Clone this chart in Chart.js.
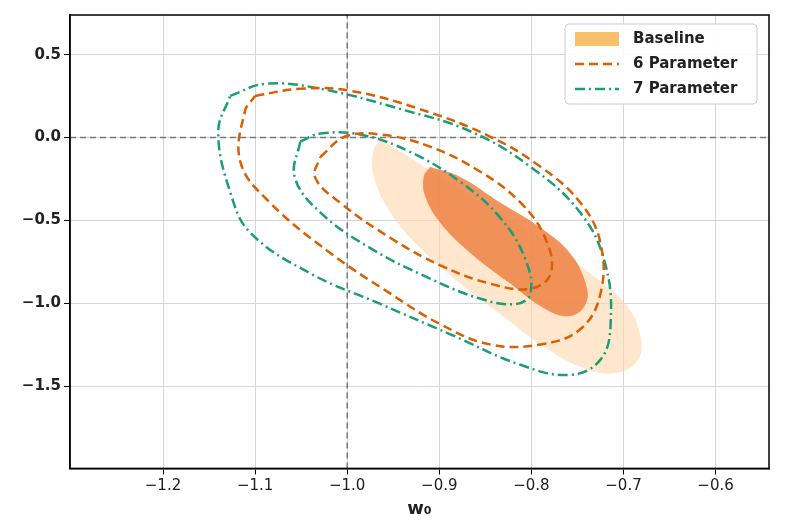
<!DOCTYPE html>
<html><head><meta charset="utf-8">
<script src="https://cdn.jsdelivr.net/npm/chart.js@4.4.1/dist/chart.umd.min.js"></script>
<style>body{margin:0;background:#fff}#w{width:800px;height:524px}</style>
</head><body><div id="w"><canvas id="c"></canvas></div>
<script>
const xTicks=[-1.2,-1.1,-1.0,-0.9,-0.8,-0.7,-0.6];
const yTicks=[0.5,0.0,-0.5,-1.0,-1.5];
const baselineOuter=[[-0.964,-0.012],[-0.942,-0.086],[-0.899,-0.239],[-0.845,-0.422],[-0.790,-0.606],[-0.736,-0.820],[-0.698,-1.004],[-0.682,-1.187],[-0.684,-1.340],[-0.709,-1.420],[-0.747,-1.383],[-0.790,-1.248],[-0.834,-1.065],[-0.877,-0.881],[-0.921,-0.667],[-0.953,-0.453],[-0.971,-0.239],[-0.972,-0.086]];
const baselineInner=[[-0.910,-0.177],[-0.877,-0.239],[-0.834,-0.392],[-0.790,-0.545],[-0.758,-0.698],[-0.741,-0.881],[-0.741,-1.004],[-0.758,-1.077],[-0.785,-1.034],[-0.823,-0.881],[-0.866,-0.698],[-0.899,-0.514],[-0.915,-0.361],[-0.917,-0.239]];
const p6Outer=[[-1.100,0.251],[-1.051,0.294],[-0.997,0.282],[-0.921,0.171],[-0.845,0.006],[-0.790,-0.177],[-0.747,-0.392],[-0.725,-0.636],[-0.725,-0.942],[-0.747,-1.157],[-0.790,-1.248],[-0.845,-1.248],[-0.899,-1.126],[-0.953,-0.942],[-1.018,-0.698],[-1.084,-0.392],[-1.116,-0.147],[-1.111,0.159]];
const p6Inner=[[-1.029,-0.116],[-1.002,0.006],[-0.964,0.018],[-0.910,-0.055],[-0.855,-0.208],[-0.812,-0.392],[-0.785,-0.606],[-0.779,-0.820],[-0.801,-0.912],[-0.845,-0.881],[-0.899,-0.771],[-0.953,-0.606],[-1.008,-0.392],[-1.035,-0.239]];
const p7Outer=[[-1.127,0.251],[-1.089,0.324],[-1.029,0.294],[-0.942,0.171],[-0.866,0.037],[-0.801,-0.177],[-0.747,-0.453],[-0.720,-0.759],[-0.714,-1.126],[-0.725,-1.340],[-0.758,-1.432],[-0.812,-1.371],[-0.888,-1.187],[-0.964,-1.004],[-1.040,-0.820],[-1.105,-0.575],[-1.127,-0.330],[-1.140,0.037]];
const p7Inner=[[-1.051,-0.024],[-1.029,0.024],[-0.986,0.018],[-0.932,-0.086],[-0.877,-0.269],[-0.834,-0.483],[-0.807,-0.728],[-0.801,-0.942],[-0.817,-1.004],[-0.855,-0.973],[-0.910,-0.851],[-0.975,-0.667],[-1.029,-0.453],[-1.057,-0.239]];
const refX=-1.0, refY=0.0;
const xMin=-1.301,xMax=-0.542,yMin=-1.996,yMax=0.739;

const pts=a=>{const r=a.map(p=>({x:p[0],y:p[1]}));r.push({...r[0]});return r;};
const ORANGE='#d95f02',GREEN='#1b9e77';
function ds(data,o){return Object.assign({data:pts(data),showLine:true,pointRadius:0,tension:0.4,borderWidth:2.5,fill:false},o);}
const fmt=v=>(v<0?'\u2212':'')+Math.abs(v).toFixed(1);
const FILLS={0:'rgba(253,215,170,0.6)',1:'rgba(238,135,75,0.9)'};

new Chart(document.getElementById('c'),{
 type:'scatter',
 data:{datasets:[
  ds(baselineOuter,{borderWidth:0,borderColor:'rgba(0,0,0,0)'}),
  ds(baselineInner,{borderWidth:0,borderColor:'rgba(0,0,0,0)'}),
  ds(p6Outer,{borderColor:ORANGE,borderDash:[9,5]}),
  ds(p6Inner,{borderColor:ORANGE,borderDash:[9,5]}),
  ds(p7Outer,{borderColor:GREEN,borderDash:[10,4,2,4]}),
  ds(p7Inner,{borderColor:GREEN,borderDash:[10,4,2,4]}),
  {data:[{x:refX,y:yMin},{x:refX,y:yMax}],showLine:true,pointRadius:0,borderColor:'#777',borderWidth:1.5,borderDash:[6,4]},
  {data:[{x:xMin,y:refY},{x:xMax,y:refY}],showLine:true,pointRadius:0,borderColor:'#777',borderWidth:1.5,borderDash:[6,4]}
 ]},
 options:{responsive:true,maintainAspectRatio:false,animation:false,
  layout:{padding:{top:15,right:31,bottom:4,left:0}},
  plugins:{legend:{display:false},tooltip:{enabled:false}},
  scales:{
   x:{type:'linear',min:xMin,max:xMax,
    afterBuildTicks:a=>{a.ticks=xTicks.map(v=>({value:v}));},
    ticks:{callback:v=>fmt(v),font:{size:15,family:'DejaVu Sans'},color:'#222'},
    grid:{color:'#d6d6d6',tickColor:'#000',tickLength:6},border:{color:'#000',width:1.5},
    title:{display:true,text:'w\u2080',font:{size:18,weight:'bold',family:'DejaVu Sans'},color:'#222',padding:0}},
   y:{type:'linear',min:yMin,max:yMax,
    afterBuildTicks:a=>{a.ticks=yTicks.map(v=>({value:v}));},
    afterFit:a=>{a.width=70;},
    ticks:{callback:v=>fmt(v),font:{size:15,weight:'bold',family:'DejaVu Sans'},color:'#222'},
    grid:{color:'#d6d6d6',tickColor:'#000',tickLength:6},border:{color:'#000',width:1.5}}
  }},
 plugins:[{id:'shapes',beforeDatasetsDraw(ch){
  const c=ch.ctx,a=ch.chartArea;
  c.save();c.beginPath();c.rect(a.left,a.top,a.right-a.left,a.bottom-a.top);c.clip();
  [0,1].forEach(i=>{const el=ch.getDatasetMeta(i).dataset;
   c.fillStyle=FILLS[i];c.beginPath();el.path(c);c.closePath();c.fill();});
  c.restore();}},
 {id:'box',afterDraw(ch){
  const c=ch.ctx,a=ch.chartArea;
  c.save();c.strokeStyle='#000';c.lineWidth=1.5;c.strokeRect(a.left,a.top,a.right-a.left,a.bottom-a.top);
  const x0=565,y0=24,w=192,h=80;
  c.fillStyle='rgba(255,255,255,0.9)';c.strokeStyle='#ccc';c.lineWidth=1;
  c.beginPath();c.roundRect(x0,y0,w,h,4);c.fill();c.stroke();
  c.font='bold 15px DejaVu Sans';c.fillStyle='#222';c.textBaseline='middle';
  const rows=[['Baseline',null],['6 Parameter',[9,5],ORANGE],['7 Parameter',[10,4,2,4],GREEN]];
  rows.forEach((r,i)=>{const y=y0+15+i*25;
   if(i===0){c.fillStyle='#f9c06a';c.fillRect(x0+10,y-7,44,14);}
   else{c.strokeStyle=r[2];c.lineWidth=2.5;c.setLineDash(r[1]);c.beginPath();c.moveTo(x0+10,y);c.lineTo(x0+54,y);c.stroke();c.setLineDash([]);}
   c.fillStyle='#222';c.fillText(r[0],x0+68,y);});
  c.restore();}}]
});
</script></body></html>
